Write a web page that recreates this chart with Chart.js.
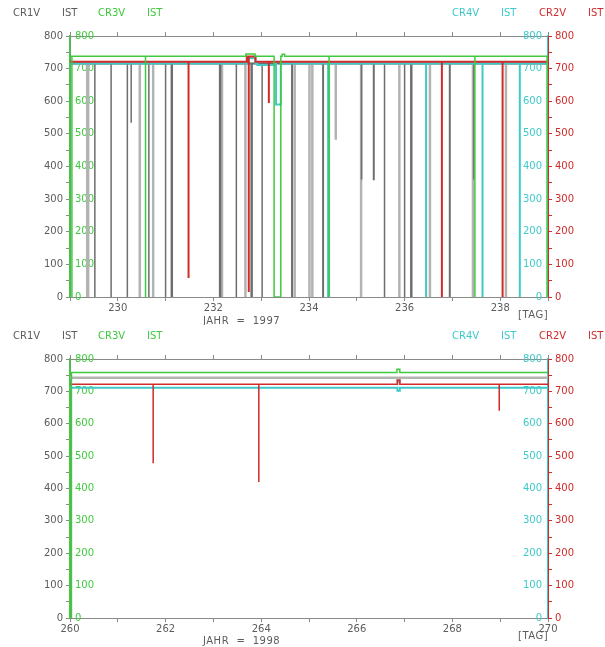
<!DOCTYPE html>
<html>
<head>
<meta charset="utf-8">
<script src="https://cdn.jsdelivr.net/npm/chart.js@4/dist/chart.umd.min.js"></script>
<style>
html, body { margin: 0; padding: 0; background: #fff; }
canvas { position: absolute; left: 0; }
#top { top: 0; }
#bot { top: 323px; }
</style>
</head>
<body>
<canvas id="top" width="605" height="325"></canvas>
<canvas id="bot" width="605" height="324"></canvas>
<script>
// day ranges (TAG) per year
const range1997 = [229, 239];
const range1998 = [260, 270];

// legend labels
const legendLeft = ['CR1V', 'IST', 'CR3V', 'IST'];
const legendRight = ['CR4V', 'IST', 'CR2V', 'IST'];

// 1997 base levels
const green97Base = 738;
const red97Base = 721;
const cyan97Base = 716;
const gray97Base = 716;

// drops: [day, lowest value, width in days]
const green97Drops = [[229.04, 0, 0], [230.58, 0, 0], [233.27, 0, 0.14], [234.42, 0, 0], [237.47, 0, 0], [238.98, 0, 0]];
const red97Drops = [[231.48, 58, 0], [232.74, 15, 0], [233.16, 595, 0], [236.78, 0, 0], [238.05, 0, 0]];
const cyan97Drops = [[233.31, 590, 0.1], [234.40, 0, 0.02], [236.45, 0, 0], [237.63, 0, 0], [238.41, 0, 0]];
const dark97Drops = [[229.52, 0, 0], [229.86, 0, 0], [230.20, 0, 0], [230.28, 534, 0], [230.65, 0, 0], [231.00, 0, 0],
  [231.12, 0, 0.02], [232.13, 0, 0.02], [232.48, 0, 0], [232.79, 0, 0.02], [233.02, 0, 0], [233.64, 0, 0.01],
  [234.29, 0, 0.01], [235.10, 360, 0], [235.35, 360, 0.01], [235.58, 0, 0], [236.00, 0, 0], [236.13, 0, 0.02],
  [236.94, 0, 0.01], [237.45, 360, 0]];
const light97Drops = [[229.36, 0, 0.02], [230.46, 0, 0], [230.74, 0, 0], [232.18, 0, 0], [232.67, 0, 0], [233.70, 0, 0],
  [234.01, 0, 0], [234.07, 0, 0], [234.56, 482, 0], [235.09, 0, 0], [235.89, 0, 0], [236.53, 0, 0],
  [237.43, 0, 0], [238.12, 0, 0]];

// short level changes: [from day, to day, value]
const green97Bumps = [[232.68, 232.87, 745], [233.44, 233.49, 744]];
const red97Bumps = [[232.70, 232.88, 737]];
const cyan97Bumps = [[232.70, 232.88, 732], [232.92, 233.30, 711]];
const gray97Bumps = [];

// 1998
const green98Base = 758;
const gray98Base = 742;
const red98Base = 722;
const cyan98Base = 711;

const green98Drops = [[260.03, 0, 0]];
const red98Drops = [[261.74, 478, 0], [263.95, 420, 0], [268.98, 640, 0]];
const green98Bumps = [[266.84, 266.90, 768]];
const gray98Bumps = [[266.85, 266.90, 730]];
const red98Bumps = [[266.85, 266.90, 734]];
const cyan98Bumps = [[266.85, 266.90, 702]];

const GRAY = '#5c5c5c';
const AXIS = '#8a8a8a';
const DARK = '#6e6e6e';
const LIGHT = '#b3b3b3';
const GREEN = '#3fca3f';
const CYAN = '#3fc9c9';
const RED = '#cf2b2b';
const FONT = { family: 'DejaVu Sans', size: 10 };

function track(range, base, drops, bumps) {
  const level = t => {
    for (const [a, b, v] of bumps) if (t >= a && t < b) return v;
    return base;
  };
  const ev = [];
  bumps.forEach(([a, b, v]) => {
    ev.push([a, [[a, base], [a, v]]]);
    ev.push([b, [[b, v], [b, base]]]);
  });
  drops.forEach(([t, lo, w]) => {
    const l = level(t);
    ev.push([t, [[t, l], [t, lo], [t + w, lo], [t + w, l]]]);
  });
  ev.sort((p, q) => p[0] - q[0]);
  const pts = [[range[0], base]];
  ev.forEach(e => pts.push(...e[1]));
  pts.push([range[1], base]);
  return pts.map(([x, y]) => ({ x, y }));
}

function line(data, color, width) {
  return {
    data: data,
    borderColor: color,
    borderWidth: width,
    pointRadius: 0,
    tension: 0,
    fill: false,
    yAxisID: 'yL'
  };
}

const textPlugin = {
  id: 'texts',
  afterDraw(chart, args, opts) {
    const c = chart.ctx;
    c.save();
    c.font = '10px "DejaVu Sans"';
    c.textBaseline = 'middle';
    c.textAlign = 'left';
    const leg = [
      [legendLeft[0], 13, GRAY], [legendLeft[1], 62, GRAY],
      [legendLeft[2], 98, GREEN], [legendLeft[3], 147, GREEN],
      [legendRight[0], 452, CYAN], [legendRight[1], 501, CYAN],
      [legendRight[2], 539, RED], [legendRight[3], 588, RED]
    ];
    leg.forEach(([t, x, col]) => { c.fillStyle = col; c.fillText(t, x, 13); });
    c.fillStyle = GRAY;
    c.letterSpacing = '0.5px';
    c.fillText(opts.title, 203, opts.titleY);
    c.fillText('[TAG]', 518, opts.tagY);
    c.restore();
  }
};

function yAxis(pos, weight, color, mirror, padding, width) {
  return {
    type: 'linear',
    position: pos,
    weight: weight,
    min: 0,
    max: 800,
    ticks: {
      stepSize: 50,
      autoSkip: false,
      mirror: mirror,
      padding: padding,
      color: color,
      font: FONT,
      callback: v => (v % 100 === 0 ? String(v) : '')
    },
    grid: { display: !mirror, drawOnChartArea: false, drawTicks: true, tickLength: 4, color: color === GRAY ? AXIS : color },
    border: { display: true, color: color === GRAY ? AXIS : color, width: mirror ? 1.5 : 1 },
    afterFit: s => { s.width = width; }
  };
}

function makeChart(id, range, datasets, area, texts) {
  const H = document.getElementById(id).height;
  return new Chart(document.getElementById(id), {
    type: 'line',
    data: { datasets: datasets },
    plugins: [textPlugin],
    options: {
      responsive: false,
      animation: false,
      layout: { padding: 0 },
      plugins: { legend: { display: false }, tooltip: { enabled: false }, texts: texts },
      scales: {
        x: {
          type: 'linear',
          position: 'bottom',
          min: range[0],
          max: range[1],
          ticks: {
            stepSize: 1,
            autoSkip: false,
            maxRotation: 0,
            padding: 1,
            color: GRAY,
            font: FONT,
            callback: v => (v % 2 === 0 ? String(v) : '')
          },
          grid: { drawOnChartArea: false, tickLength: 4, color: AXIS },
          border: { color: AXIS },
          afterFit: s => { s.height = H - area.bottom; }
        },
        xTop: {
          type: 'linear',
          position: 'top',
          min: range[0],
          max: range[1],
          ticks: { stepSize: 1, display: false },
          grid: { drawOnChartArea: false, tickLength: 4, color: AXIS },
          border: { color: AXIS },
          afterFit: s => { s.height = area.top; }
        },
        yL: yAxis('left', 1, GRAY, false, 3, 70),
        yG: yAxis('left', 0, GREEN, true, 5, 0),
        yC: yAxis('right', 0, CYAN, true, -6, 0),
        yR: yAxis('right', 1, RED, false, 3, 57)
      }
    }
  });
}

// first dataset is drawn on top
makeChart('top', range1997, [
  line(track(range1997, green97Base, green97Drops, green97Bumps), GREEN, 1.5),
  line(track(range1997, red97Base, red97Drops, red97Bumps), RED, 2),
  line(track(range1997, cyan97Base, cyan97Drops, cyan97Bumps), CYAN, 2),
  line(track(range1997, gray97Base, dark97Drops, gray97Bumps), DARK, 1.5),
  line(track(range1997, gray97Base, light97Drops, gray97Bumps), LIGHT, 2.5)
], { top: 36, bottom: 297 }, { title: 'JAHR  =  1997', titleY: 321, tagY: 315 });

makeChart('bot', range1998, [
  line(track(range1998, green98Base, green98Drops, green98Bumps), GREEN, 1.5),
  line(track(range1998, red98Base, red98Drops, red98Bumps), RED, 1.5),
  line(track(range1998, cyan98Base, [], cyan98Bumps), CYAN, 2),
  line(track(range1998, gray98Base, [], gray98Bumps), LIGHT, 2.5)
], { top: 36, bottom: 295 }, { title: 'JAHR  =  1998', titleY: 318, tagY: 313 });
</script>
</body>
</html>
